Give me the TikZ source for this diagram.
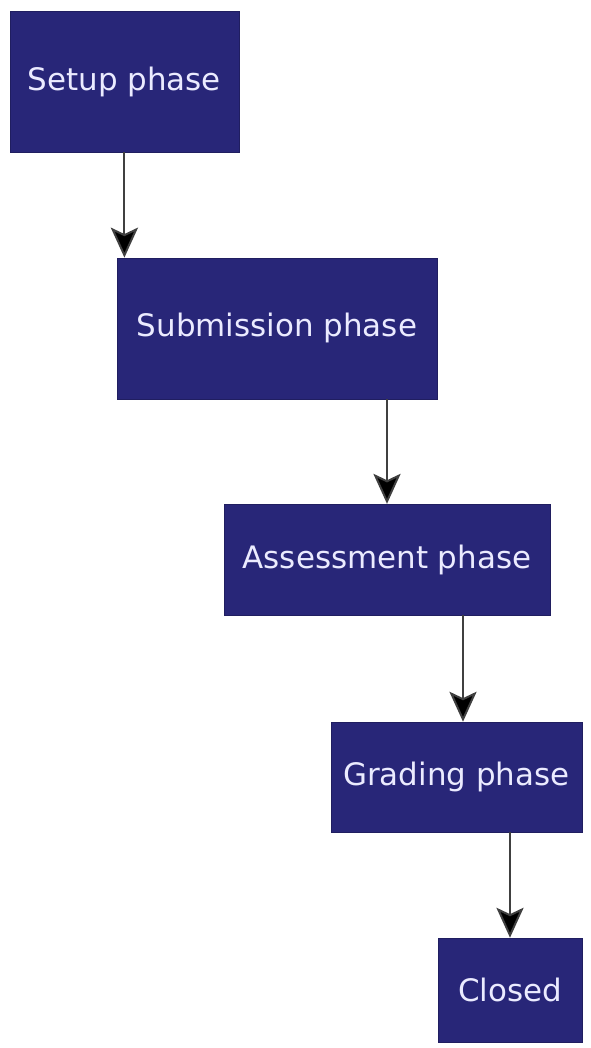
\documentclass[tikz,border=0pt]{standalone}
\usepackage{fontspec}
\setmainfont{DejaVu Sans}
\usepackage{xcolor}
\usetikzlibrary{positioning,calc,arrows.meta}
\definecolor{phasebg}{RGB}{40,38,120}

\begin{document}
\begin{tikzpicture}[
  phase/.style={draw=phasebg!80!black, fill=phasebg, text=white!92!blue,
    inner sep=0pt, font=\fontsize{22}{25}\selectfont},
  flow/.style={line width=1.4pt, draw=black!75,
    -{Stealth[length=7.5mm, width=6.8mm, inset=1.6mm, fill=black]}}]
  \useasboundingbox (0, 0) rectangle (14.775, -26.2);

  % Phases
  \node[phase, minimum width=5.725cm, minimum height=3.525cm] (setup) at (3.11, -2.04) {Setup phase};
  \node[phase, minimum width=8.0cm, minimum height=3.525cm] (submission) at (6.925, -8.21) {Submission phase};
  \node[phase, minimum width=8.15cm, minimum height=2.775cm] (assessment) at (9.675, -13.99) {Assessment phase};
  \node[phase, minimum width=6.275cm, minimum height=2.75cm] (grading) at (11.41, -19.425) {Grading phase};
  \node[phase, minimum width=3.6cm, minimum height=2.6cm] (closed) at (12.75, -24.75) {Closed};

  % Transitions
  \draw[flow] (setup.south) -- (setup.south |- submission.north);
  \draw[flow] (assessment.north |- submission.south) -- (assessment.north);
  \coordinate (gradein) at ($(grading.north)+(0.165, 0)$);
  \draw[flow] (gradein |- assessment.south) -- (gradein);
  \draw[flow] (closed.north |- grading.south) -- (closed.north);
\end{tikzpicture}
\end{document}
